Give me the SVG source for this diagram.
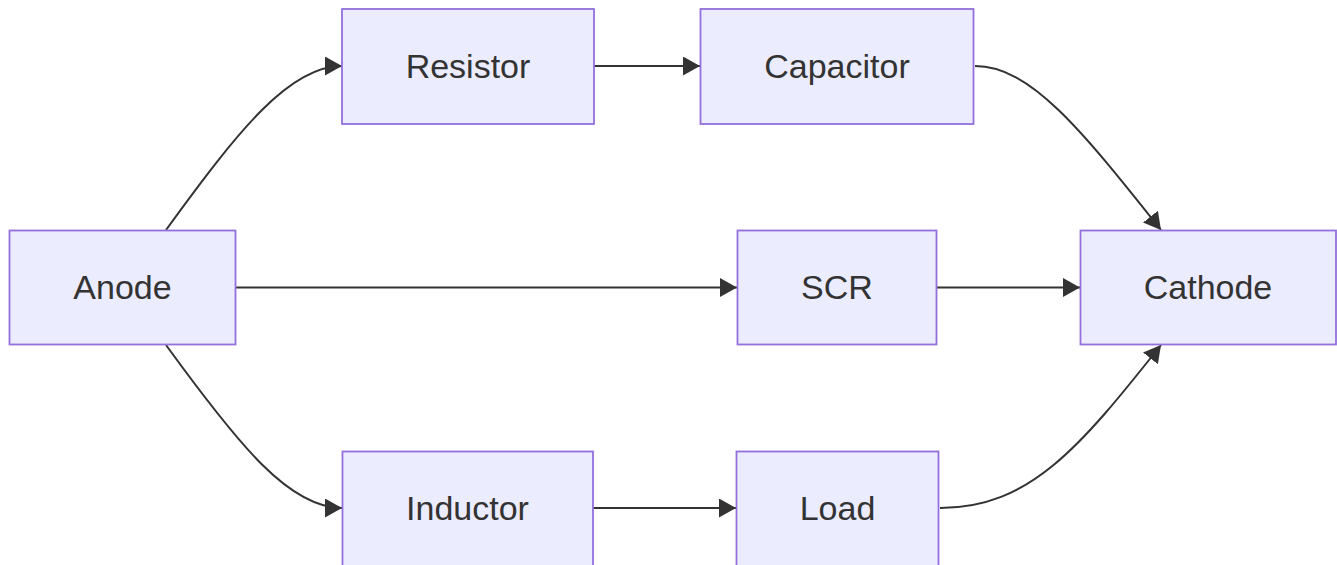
<svg xmlns="http://www.w3.org/2000/svg" width="1337" height="565" viewBox="0 0 1337 565">
<style>
.node rect{fill:#ECECFF;stroke:#9370DB;stroke-width:1.8}
.node text{font-family:"Liberation Sans",Arial,sans-serif;font-size:34px;fill:#333;text-anchor:middle;dominant-baseline:central}
.edge{fill:none;stroke:#333;stroke-width:2}
</style>
<defs>
<marker id="arrow" markerUnits="userSpaceOnUse" markerWidth="19" markerHeight="19" refX="17" refY="9.5" orient="auto">
<path d="M0,0 L17,9.5 L0,19 z" fill="#333"/>
</marker>
</defs>
<g id="connectors">
<path class="edge" d="M166,230 C240,128 290,66 342,66" marker-end="url(#arrow)"/>
<path class="edge" d="M594,66 L700,66" marker-end="url(#arrow)"/>
<path class="edge" d="M975,66 C1030,66 1080,128 1161,230" marker-end="url(#arrow)"/>
<path class="edge" d="M236,287.5 L737,287.5" marker-end="url(#arrow)"/>
<path class="edge" d="M937,287.5 L1080,287.5" marker-end="url(#arrow)"/>
<path class="edge" d="M166,345 C240,447 290,508 342,508" marker-end="url(#arrow)"/>
<path class="edge" d="M593,508 L736,508" marker-end="url(#arrow)"/>
<path class="edge" d="M940,508 C1030,508 1080,447 1161,345" marker-end="url(#arrow)"/>
</g>
<g id="anode" class="node"><rect x="9.5" y="230.5" width="226" height="114"/><text x="122.5" y="287">Anode</text></g>
<g id="resistor" class="node"><rect x="342" y="9" width="252" height="115"/><text x="468" y="66">Resistor</text></g>
<g id="capacitor" class="node"><rect x="700.5" y="9" width="273" height="115"/><text x="837" y="66">Capacitor</text></g>
<g id="scr" class="node"><rect x="737.5" y="230.5" width="199" height="114"/><text x="837" y="287">SCR</text></g>
<g id="cathode" class="node"><rect x="1080.5" y="230.5" width="255.5" height="114"/><text x="1208" y="287">Cathode</text></g>
<g id="inductor" class="node"><rect x="342.5" y="451.5" width="250.5" height="115"/><text x="467.5" y="507.5">Inductor</text></g>
<g id="load" class="node"><rect x="736.5" y="451.5" width="202" height="115"/><text x="837.5" y="507.5">Load</text></g>
</svg>
